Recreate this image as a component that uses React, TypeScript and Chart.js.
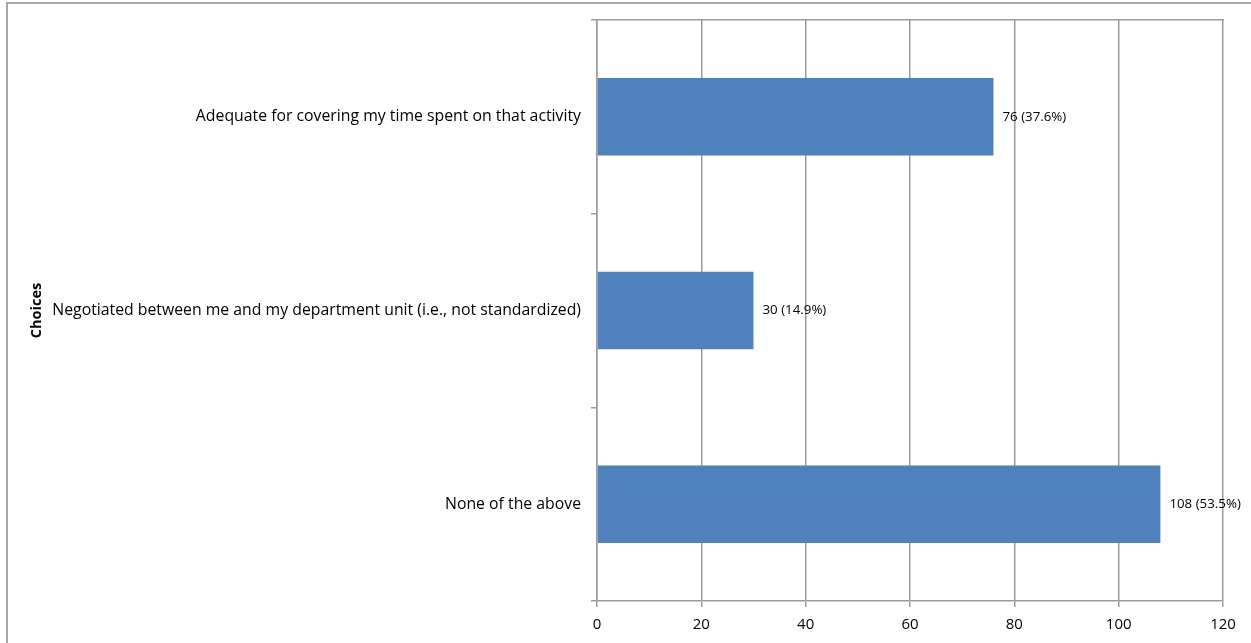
import React, { useEffect, useRef } from "react";
import { Chart, registerables } from "chart.js";

Chart.register(...registerables);

const categories = [
  "Adequate for covering my time spent on that activity",
  "Negotiated between me and my department unit (i.e., not standardized)",
  "None of the above",
];
const counts = [76, 30, 108];
const percents = ["37.6%", "14.9%", "53.5%"];
const xTicks = [0, 20, 40, 60, 80, 100, 120];

const FONT = "'Open Sans', 'DejaVu Sans', sans-serif";
const GRID = "#9b9b9b";

const labelPlugin = {
  id: "barLabels",
  afterDatasetsDraw(chart: any) {
    const ctx = chart.ctx;
    const meta = chart.getDatasetMeta(0);
    ctx.save();
    ctx.font = `13.3px ${FONT}`;
    ctx.fillStyle = "#000";
    ctx.textAlign = "left";
    ctx.textBaseline = "middle";
    meta.data.forEach((bar: any, i: number) => {
      ctx.fillText(`${counts[i]} (${percents[i]})`, bar.x + 9, bar.y);
    });
    ctx.restore();
  },
};

export default function App() {
  const ref = useRef<HTMLCanvasElement | null>(null);
  useEffect(() => {
    if (!ref.current) return;
    const chart = new Chart(ref.current, {
      type: "bar",
      data: {
        labels: categories,
        datasets: [
          {
            data: counts,
            backgroundColor: "#4F81BD",
            borderWidth: 0,
            barPercentage: 0.4,
            categoryPercentage: 1,
          },
        ],
      },
      options: {
        indexAxis: "y",
        animation: false,
        responsive: false,
        layout: { padding: { left: 0, right: 28, top: 20, bottom: 0 } },
        plugins: { legend: { display: false }, tooltip: { enabled: false } },
        scales: {
          x: {
            type: "linear",
            position: "bottom",
            min: 0,
            max: 120,
            afterBuildTicks: (s: any) => {
              s.ticks = xTicks.map((v) => ({ value: v }));
            },
            afterFit: (s: any) => {
              s.height = 42;
            },
            grid: { color: GRID, lineWidth: 1.5, tickLength: 6 },
            border: { color: GRID, width: 1.5 },
            ticks: { color: "#000", font: { family: FONT, size: 15 }, padding: 9 },
          },
          xTop: {
            type: "linear",
            position: "top",
            min: 0,
            max: 120,
            afterFit: (s: any) => {
              s.height = 0;
            },
            grid: { display: false, drawTicks: false },
            border: { display: true, color: GRID, width: 1.5 },
            ticks: { display: false },
          },
          y: {
            type: "category",
            offset: true,
            afterFit: (s: any) => {
              s.width = 597;
            },
            grid: {
              offset: true,
              drawOnChartArea: false,
              color: GRID,
              lineWidth: 1.5,
              tickLength: 6,
            },
            border: { color: GRID, width: 1.5 },
            ticks: { color: "#000", font: { family: FONT, size: 15.8 }, padding: 10 },
            title: {
              display: true,
              text: "Choices",
              color: "#000",
              font: { family: FONT, size: 14.5, weight: "bold" },
              padding: { top: 28, bottom: 0 },
            },
          },
        },
      } as any,
      plugins: [labelPlugin],
    });
    return () => chart.destroy();
  }, []);

  return (
    <div style={{ position: "absolute", left: 0, top: 0, width: 1251, height: 643, overflow: "hidden", background: "#fff" }}>
      <div
        style={{
          position: "absolute",
          left: 6,
          top: 2,
          width: 1300,
          height: 700,
          borderLeft: "2px solid #a8a8a8",
          borderTop: "2px solid #a8a8a8",
        }}
      />
      <canvas
        ref={ref}
        width={1251}
        height={643}
        style={{ position: "absolute", left: 0, top: 0, width: 1251, height: 643 }}
      />
    </div>
  );
}
